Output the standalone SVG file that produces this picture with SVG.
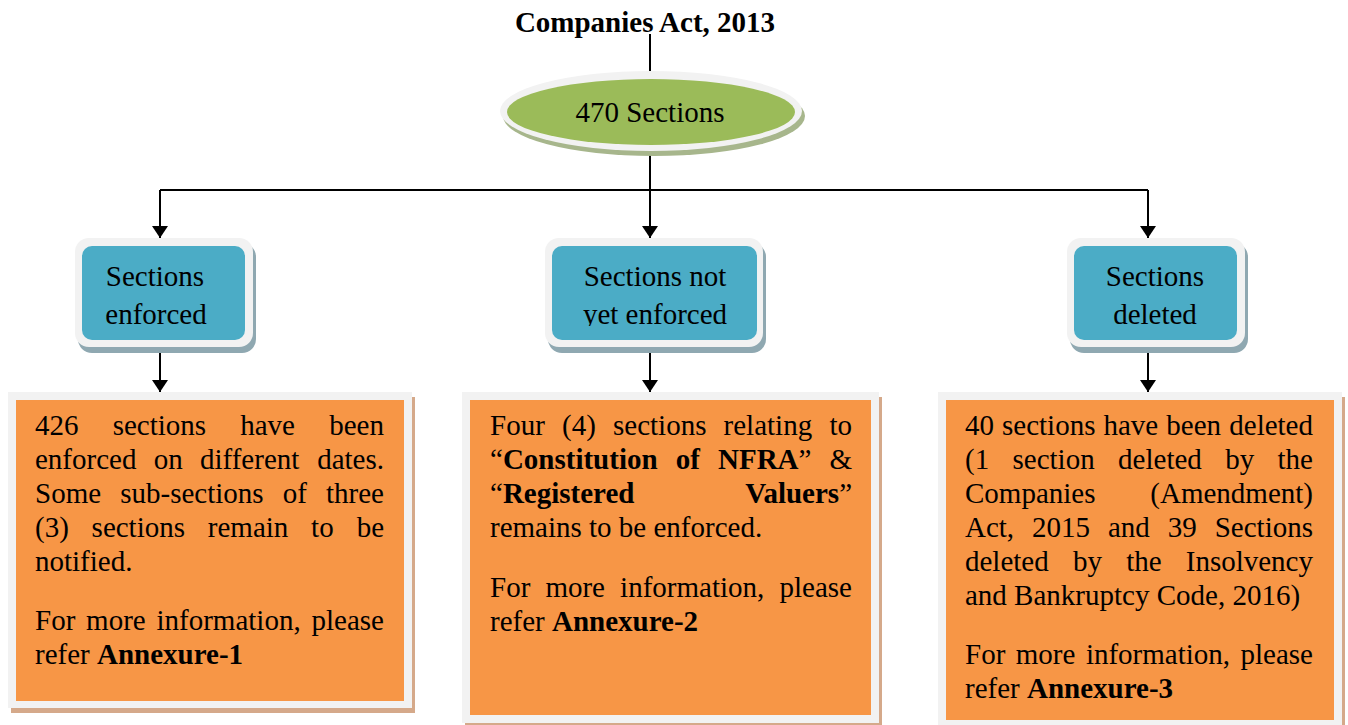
<svg xmlns="http://www.w3.org/2000/svg" width="1348" height="725" viewBox="0 0 1348 725">
<style>
  text { font-family: "Liberation Serif", "Times New Roman", serif; font-size: 29px; fill: #000; }
  .b { font-weight: bold; }
  .mid { text-anchor: middle; }
  .end { text-anchor: end; }
  .frame { fill: #f2f2f2; }
  .blue { fill: #4bacc6; }
  .blueShadow { fill: #8fa8b1; }
  .orange { fill: #f79646; }
  .orangeShadow { fill: #d5a98a; }
  .conn { stroke: #000; stroke-width: 2; fill: none; }
</style>
<defs>
  <marker id="arrow" markerUnits="userSpaceOnUse" viewBox="0 0 12 16" markerWidth="12" markerHeight="16" refX="12" refY="8" orient="auto">
    <path d="M0,0 L12,8 L0,16 z" fill="#000"/>
  </marker>
  <clipPath id="clipBox2">
    <rect x="545" y="238" width="218" height="88"/>
  </clipPath>
</defs>
<rect width="1348" height="725" fill="#fff"/>

<g id="title">
  <text class="b mid" x="645" y="32">Companies Act, 2013</text>
</g>

<g id="connectors">
  <path class="conn" d="M650,34 V71"/>
  <path class="conn" d="M650,150 V238" marker-end="url(#arrow)"/>
  <path class="conn" d="M160,190 H1148"/>
  <path class="conn" d="M160,190 V238" marker-end="url(#arrow)"/>
  <path class="conn" d="M1148,190 V238" marker-end="url(#arrow)"/>
  <path class="conn" d="M160,350 V392" marker-end="url(#arrow)"/>
  <path class="conn" d="M650,350 V392" marker-end="url(#arrow)"/>
  <path class="conn" d="M1148,350 V392" marker-end="url(#arrow)"/>
</g>

<g id="node-sections">
  <ellipse cx="654" cy="116" rx="151" ry="40" fill="#a7b68c"/>
  <ellipse cx="651" cy="111" rx="151" ry="40" class="frame"/>
  <ellipse cx="651" cy="112" rx="144" ry="33" fill="#9bbb59"/>
  <text class="mid" x="650" y="122">470 Sections</text>
</g>

<g id="node-enforced">
  <rect x="78" y="243" width="178" height="110" rx="14" class="blueShadow"/>
  <rect x="75" y="238" width="178" height="109" rx="14" class="frame"/>
  <rect x="82" y="246" width="163" height="94" rx="10" class="blue"/>
  <text class="mid" x="155" y="286">Sections</text>
  <text class="mid" x="156" y="324">enforced</text>
</g>

<g id="node-not-enforced">
  <rect x="548" y="243" width="218" height="110" rx="14" class="blueShadow"/>
  <rect x="545" y="238" width="218" height="109" rx="14" class="frame"/>
  <rect x="552" y="246" width="205" height="94" rx="10" class="blue"/>
  <g clip-path="url(#clipBox2)">
    <text class="mid" x="655" y="286">Sections not</text>
    <text class="mid" x="655" y="324">yet enforced</text>
  </g>
</g>

<g id="node-deleted">
  <rect x="1070" y="243" width="178" height="110" rx="14" class="blueShadow"/>
  <rect x="1067" y="238" width="178" height="109" rx="14" class="frame"/>
  <rect x="1074" y="246" width="163" height="94" rx="10" class="blue"/>
  <text class="mid" x="1155" y="286">Sections</text>
  <text class="mid" x="1155" y="324">deleted</text>
</g>

<g id="node-box1">
  <rect x="11" y="397" width="404" height="316" class="orangeShadow"/>
  <rect x="8" y="392" width="404" height="316" class="frame"/>
  <rect x="16" y="400" width="388" height="301" class="orange"/>
  <text x="35" y="435">426</text>
  <text x="112.7" y="435">sections</text>
  <text x="240.2" y="435">have</text>
  <text class="end" x="384" y="435">been</text>
  <text x="35" y="469">enforced</text>
  <text x="153.7" y="469">on</text>
  <text x="200" y="469">different</text>
  <text class="end" x="384" y="469">dates.</text>
  <text x="35" y="503">Some</text>
  <text x="120.2" y="503">sub-sections</text>
  <text x="282.7" y="503">of</text>
  <text class="end" x="384" y="503">three</text>
  <text x="35" y="537">(3)</text>
  <text x="91.6" y="537">sections</text>
  <text x="207.8" y="537">remain</text>
  <text x="311.1" y="537">to</text>
  <text class="end" x="384" y="537">be</text>
  <text x="35" y="571">notified.</text>
  <text x="35" y="630">For</text>
  <text x="86.1" y="630">more</text>
  <text x="156.5" y="630">information,</text>
  <text class="end" x="384" y="630">please</text>
  <text x="35" y="664">refer <tspan class="b">Annexure-1</tspan></text>
</g>

<g id="node-box2">
  <rect x="465" y="397" width="417" height="331" class="orangeShadow"/>
  <rect x="462" y="392" width="417" height="331" class="frame"/>
  <rect x="470" y="400" width="401" height="315" class="orange"/>
  <text x="490" y="435">Four</text>
  <text x="562" y="435">(4)</text>
  <text x="613" y="435">sections</text>
  <text x="723.6" y="435">relating</text>
  <text class="end" x="852" y="435">to</text>
  <text x="490" y="469">“<tspan class="b">Constitution</tspan></text>
  <text class="b" x="675.7" y="469">of</text>
  <text x="718" y="469"><tspan class="b">NFRA</tspan>”</text>
  <text class="end" x="852" y="469">&amp;</text>
  <text x="490" y="503">“<tspan class="b">Registered</tspan></text>
  <text class="end" x="852" y="503"><tspan class="b">Valuers</tspan>”</text>
  <text x="490" y="537">remains to be enforced.</text>
  <text x="490" y="597">For</text>
  <text x="545.4" y="597">more</text>
  <text x="620.1" y="597">information,</text>
  <text class="end" x="852" y="597">please</text>
  <text x="490" y="631">refer <tspan class="b">Annexure-2</tspan></text>
</g>

<g id="node-box3">
  <rect x="941" y="397" width="404" height="333" class="orangeShadow"/>
  <rect x="938" y="392" width="404" height="333" class="frame"/>
  <rect x="946" y="400" width="388" height="320" class="orange"/>
  <text x="965" y="435">40</text>
  <text x="1002" y="435">sections</text>
  <text x="1103.5" y="435">have</text>
  <text x="1166.3" y="435">been</text>
  <text class="end" x="1313" y="435">deleted</text>
  <text x="965" y="469">(1</text>
  <text x="1012.5" y="469">section</text>
  <text x="1118.1" y="469">deleted</text>
  <text x="1225.2" y="469">by</text>
  <text class="end" x="1313" y="469">the</text>
  <text x="965" y="503">Companies</text>
  <text class="end" x="1313" y="503">(Amendment)</text>
  <text x="965" y="537">Act,</text>
  <text x="1032" y="537">2015</text>
  <text x="1107.9" y="537">and</text>
  <text x="1167.7" y="537">39</text>
  <text class="end" x="1313" y="537">Sections</text>
  <text x="965" y="571">deleted</text>
  <text x="1073" y="571">by</text>
  <text x="1126.2" y="571">the</text>
  <text class="end" x="1313" y="571">Insolvency</text>
  <text x="965" y="605">and Bankruptcy Code, 2016)</text>
  <text x="965" y="664">For</text>
  <text x="1015.8" y="664">more</text>
  <text x="1085.9" y="664">information,</text>
  <text class="end" x="1313" y="664">please</text>
  <text x="965" y="698">refer <tspan class="b">Annexure-3</tspan></text>
</g>
</svg>
